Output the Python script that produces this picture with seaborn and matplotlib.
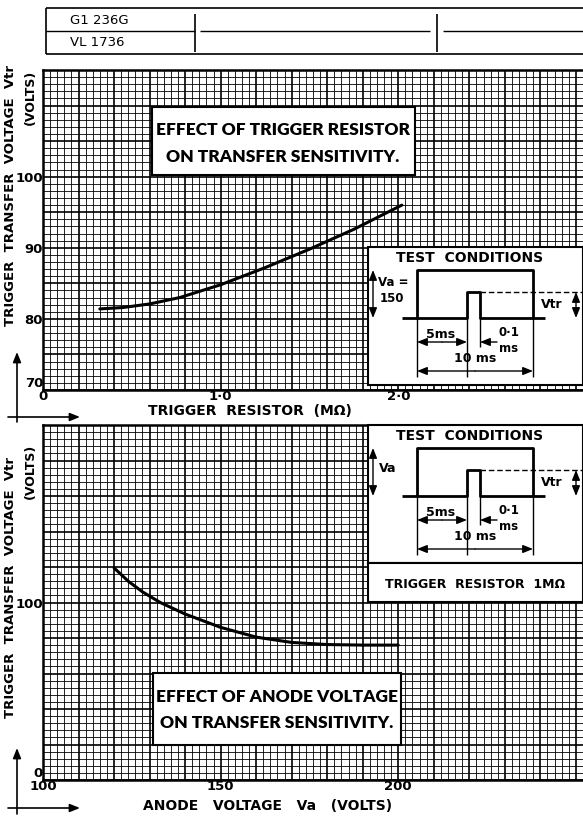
import numpy as np
import pandas as pd
import matplotlib
matplotlib.use("Agg")
import matplotlib.pyplot as plt
import seaborn as sns
from matplotlib.patches import Rectangle

# ---------------- data ----------------
resistor_mohm = [0.32, 0.45, 0.60, 0.77, 1.00, 1.25, 1.50, 1.75, 2.02]
vtr_vs_resistor = [81.4, 81.6, 82.1, 83.0, 84.8, 87.2, 89.8, 92.6, 96.0]

anode_volts = [120, 124, 128, 133, 140, 150, 160, 170, 180, 190, 200]
vtr_vs_anode = [119.5, 112.0, 106.0, 100.0, 93.5, 86.0, 80.5, 77.5, 76.3, 76.0, 76.0]

top_xticks = [0, 1, 2]
top_xticklabels = ["0", "1·0", "2·0"]
top_yticks = [70, 80, 90, 100]
top_yticklabels = ["70", "80", "90", "100"]

bot_xticks = [100, 150, 200]
bot_xticklabels = ["100", "150", "200"]
bot_yticks = [0, 100]
bot_yticklabels = ["0", "100"]

W, H = 583, 816

sns.set_theme(style="white")
plt.rcParams["font.family"] = ["DejaVu Sans"]
plt.rcParams["text.color"] = "black"
plt.rcParams["xtick.color"] = "black"
plt.rcParams["ytick.color"] = "black"
plt.rcParams["axes.labelcolor"] = "black"

fig = plt.figure(figsize=(W / 100, H / 100), dpi=100)
fig.patch.set_facecolor("white")


def frac_rect(l, t, r, b):
    return [l / W, 1 - b / H, (r - l) / W, (b - t) / H]


ax1 = fig.add_axes(frac_rect(43, 70, 583, 390))
ax2 = fig.add_axes(frac_rect(43, 425, 583, 780))


def paper(ax, x0, x1, dx, y0, y1, dy):
    ax.set_xlim(x0, x1)
    ax.set_ylim(y0, y1)
    n = int(round((x1 - x0) / dx))
    for i in range(n + 1):
        x = x0 + i * dx
        ax.axvline(x, color="black", lw=1.2 if i % 5 == 0 else 0.6, zorder=0)
    n = int(round((y1 - y0) / dy))
    for i in range(n + 1):
        y = y0 + i * dy
        ax.axhline(y, color="black", lw=1.2 if i % 5 == 0 else 0.6, zorder=0)
    for s in ["left", "bottom", "top"]:
        ax.spines[s].set_visible(True)
        ax.spines[s].set_color("black")
        ax.spines[s].set_linewidth(1.8)
    ax.spines["right"].set_visible(False)
    ax.tick_params(length=0, pad=1)
    ax.set_xlabel("")
    ax.set_ylabel("")


# top chart
paper(ax1, 0.0, 3.04, 0.04, 70, 115, 1)
sns.lineplot(x=resistor_mohm, y=vtr_vs_resistor, ax=ax1, color="black", lw=2.2, zorder=3)
ax1.set_xticks(top_xticks, top_xticklabels, fontsize=9.5, fontweight="bold")
ax1.set_yticks(top_yticks, top_yticklabels, fontsize=9.5, fontweight="bold")
ax1.tick_params(axis="y", pad=0)
ax1.tick_params(axis="x", pad=0)
for lab in ax1.get_yticklabels():
    if lab.get_text() == "70":
        lab.set_verticalalignment("bottom")
ax1.set_xlim(0.0, 3.04)
ax1.set_ylim(70, 115)

# bottom chart
paper(ax2, 100, 252, 2, 0, 200, 4)
sns.lineplot(x=anode_volts, y=vtr_vs_anode, ax=ax2, color="black", lw=2.2, zorder=3)
ax2.set_xticks(bot_xticks, bot_xticklabels, fontsize=9.5, fontweight="bold")
ax2.set_yticks(bot_yticks, bot_yticklabels, fontsize=9.5, fontweight="bold")
ax2.tick_params(axis="y", pad=0)
ax2.tick_params(axis="x", pad=0)
for lab in ax2.get_yticklabels():
    if lab.get_text() == "0":
        lab.set_verticalalignment("bottom")
ax2.set_xlim(100, 252)
ax2.set_ylim(0, 200)

# ---------------- overlay in pixel coordinates ----------------
ov = fig.add_axes([0, 0, 1, 1], zorder=10)
ov.set_xlim(0, W)
ov.set_ylim(H, 0)
ov.axis("off")
ov.patch.set_alpha(0)

K = "black"


def line(xs, ys, lw=1.2, ls="-"):
    ov.plot(xs, ys, color=K, lw=lw, ls=ls, solid_capstyle="butt")


def arrow(x0, y0, x1, y1, lw=1.0, both=False):
    style = "<|-|>" if both else "-|>"
    ov.annotate("", xy=(x1, y1), xytext=(x0, y0),
                arrowprops=dict(arrowstyle=f"{style},head_length=0.5,head_width=0.2",
                                color=K, lw=lw, shrinkA=0, shrinkB=0))


def txt(x, y, s, size=9, weight="bold", ha="center", va="center", rot=0, family=None, **kw):
    ov.text(x, y, s, fontsize=size, fontweight=weight, ha=ha, va=va, rotation=rot,
            color=K, family=family or ["DejaVu Sans"], **kw)


# header box
line([46, 583], [8, 8], lw=1.2)
line([46, 583], [54, 54], lw=1.2)
line([46, 46], [8, 54], lw=1.2)
line([46, 195], [31, 31], lw=1.0)
line([195, 195], [14, 52], lw=1.2)
line([437, 437], [14, 52], lw=1.2)
line([200, 430], [31, 31], lw=1.0)
line([443, 583], [31, 31], lw=1.0)
txt(70, 20, "G1 236G", size=9.5, weight="normal", ha="left")
txt(70, 43, "VL 1736", size=9.5, weight="normal", ha="left")

# titles
tfam = ["Lato", "DejaVu Sans"]
ov.add_patch(Rectangle((152, 107), 263, 68, facecolor="white", edgecolor=K, lw=1.5, zorder=2))
txt(283, 130, "EFFECT OF TRIGGER RESISTOR", size=12.5, family=tfam, weight="heavy", zorder=3)
txt(283, 157, "ON TRANSFER SENSITIVITY.", size=12.5, family=tfam, weight="heavy", zorder=3)

ov.add_patch(Rectangle((153, 673), 248, 72, facecolor="white", edgecolor=K, lw=1.5, zorder=2))
txt(277, 697, "EFFECT OF ANODE VOLTAGE", size=12.5, family=tfam, weight="heavy", zorder=3)
txt(277, 723, "ON TRANSFER SENSITIVITY.", size=12.5, family=tfam, weight="heavy", zorder=3)


# test condition insets
def inset(T, B, va_lines):
    ov.add_patch(Rectangle((368, T), 583 - 368, B - T, facecolor="white", edgecolor=K, lw=1.5, zorder=1))
    txt(470, T + 11, "TEST  CONDITIONS", size=10)
    top, base, small = T + 23, T + 71, T + 45
    line([402, 417, 417, 533, 533, 545], [base, base, top, top, base, base], lw=2.0)
    line([417, 467, 467, 480, 480, 533], [base, base, small, small, base, base], lw=2.0)
    line([480, 583], [small, small], lw=1.0, ls=(0, (4, 2)))
    arrow(373, base, 373, top, both=True)
    arrow(576, base, 576, small, both=True)
    txt(552, T + 58, "Vtr", size=9)
    if len(va_lines) == 2:
        txt(393, T + 36, va_lines[0], size=8.5)
        txt(392, T + 51, va_lines[1], size=8.5)
    else:
        txt(388, T + 44, va_lines[0], size=9)
    for x in (417, 467, 533):
        line([x, x], [base, T + 130], lw=1.0)
    line([480, 480], [base, T + 100], lw=1.0)
    arrow(442, T + 95, 417, T + 95)
    arrow(442, T + 95, 467, T + 95)
    txt(441, T + 87, "5ms", size=9)
    arrow(497, T + 95, 480, T + 95)
    txt(509, T + 85, "0·1", size=8.5)
    txt(509, T + 101, "ms", size=8.5)
    arrow(475, T + 124, 417, T + 124)
    arrow(475, T + 124, 533, T + 124)
    txt(475, T + 112, "10 ms", size=9)


inset(247, 385, ["Va =", "150"])
inset(425, 563, ["Va"])
ov.add_patch(Rectangle((368, 563), 583 - 368, 39, facecolor="white", edgecolor=K, lw=1.5, zorder=1))
txt(475, 584, "TRIGGER  RESISTOR  1MΩ", size=9)

# axis labels
txt(11, 196, "TRIGGER  TRANSFER  VOLTAGE  Vtr", size=9.5, rot=90)
txt(30, 97, "(VOLTS)", size=9, rot=90)
txt(250, 411, "TRIGGER  RESISTOR  (MΩ)", size=10)

txt(11, 588, "TRIGGER  TRANSFER  VOLTAGE  Vtr", size=9.5, rot=90)
txt(30, 471, "(VOLTS)", size=9, rot=90)
txt(268, 806, "ANODE   VOLTAGE   Va   (VOLTS)", size=10)

# corner arrows
arrow(17, 422, 17, 352, lw=1.2)
arrow(8, 417, 80, 417, lw=1.2)
arrow(17, 814, 17, 748, lw=1.2)
arrow(8, 808, 80, 808, lw=1.2)

fig.savefig("out.png", dpi=100, facecolor="white")
